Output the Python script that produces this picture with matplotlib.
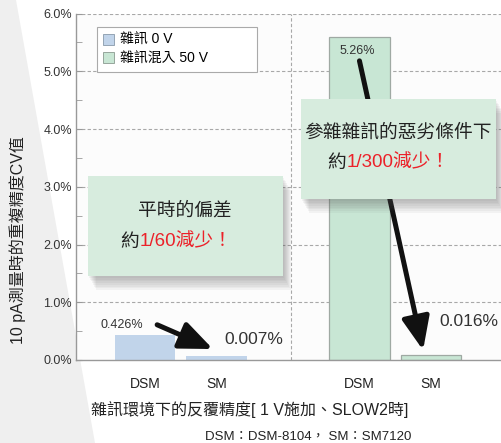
import matplotlib
matplotlib.use('Agg')
import matplotlib.pyplot as plt
import matplotlib.patches as mpatches

plt.rcParams['font.family'] = ['Liberation Sans', 'Noto Sans CJK TC', 'DejaVu Sans']

# data
categories = ['DSM', 'SM', 'DSM', 'SM']
positions = [0, 1, 3, 4]
noise0_heights = [0.426, 0.07]      # drawn heights, %
noise50_heights = [5.6, 0.08]
value_labels = ['0.426%', '0.007%', '5.26%', '0.016%']
yticks = [0, 1, 2, 3, 4, 5, 6]
series_names = ['雜訊 0 V', '雜訊混入 50 V']

W, H = 501, 443
blue = '#c1d4ea'
green = '#c8e6d4'
box_fill = '#d7ecde'
red = '#ec2129'
dark = '#222222'


def fx(px):
    return px / W


def fy(py):
    return 1 - py / H


fig = plt.figure(figsize=(W / 100, H / 100), dpi=100, facecolor='white')

# grey wedge on the left of the background
wedge = mpatches.Polygon([(0, 1), (fx(16), 1), (fx(95), 0), (0, 0)], closed=True,
                         transform=fig.transFigure, facecolor='#efefef', edgecolor='none')
wedge.set_zorder(-5)
fig.patches.append(wedge)

ax = fig.add_axes([fx(76), fy(360), fx(501) - fx(76), fy(13.5) - fy(360)])
ax.set_facecolor('#fcfcfc')
ax.set_zorder(1)

ax.bar(positions[:2], noise0_heights, width=0.85, color=blue, edgecolor='none', zorder=2)
ax.bar(positions[2:], noise50_heights, width=0.85, color=green, edgecolor='#9fa9a3',
       linewidth=0.9, zorder=2)

ax.set_xlim(-0.965, 4.98)
ax.set_ylim(0, 6)
ax.set_yticks(yticks)
ax.set_yticklabels([f'{v:.1f}%' for v in yticks], fontsize=9, color='#333333')
ax.set_yticks([0.5, 1.5, 2.5, 3.5, 4.5, 5.5], minor=True)
ax.tick_params(axis='y', which='both', direction='in', length=4, color='#999999', pad=3)
ax.set_xticks(positions)
ax.set_xticklabels(categories, fontsize=10, color='#222222')
ax.tick_params(axis='x', length=0, pad=12)

for v in yticks[1:]:
    ax.axhline(v, color='#a8a8a8', lw=0.8, ls=(0, (3, 2)), zorder=1)
ax.axvline(2.04, color='#a8a8a8', lw=0.8, ls=(0, (3, 2)), zorder=1)

for s in ['top', 'right']:
    ax.spines[s].set_visible(False)
for s in ['left', 'bottom']:
    ax.spines[s].set_color('#999999')
    ax.spines[s].set_linewidth(1.0)

# value labels
ax.text(-0.32, 0.61, value_labels[0], fontsize=9, color='#333333', ha='center', va='center', zorder=4)
ax.text(1.52, 0.35, value_labels[1], fontsize=12.5, color='#333333', ha='center', va='center', zorder=4)
ax.text(2.97, 5.35, value_labels[2], fontsize=9, color='#333333', ha='center', va='center', zorder=4)
ax.text(4.53, 0.66, value_labels[3], fontsize=12.5, color='#333333', ha='center', va='center', zorder=4)

# arrows
arrow_style = dict(arrowstyle='-|>,head_length=1.0,head_width=0.42', lw=3.6,
                   color='#111111', mutation_scale=20, shrinkA=0, shrinkB=0)
ax.annotate('', xy=(0.95, 0.19), xytext=(0.17, 0.61), arrowprops=arrow_style, zorder=5)
ax.annotate('', xy=(3.89, 0.17), xytext=(3.0, 5.18), arrowprops=arrow_style, zorder=3)

legend_handles = [mpatches.Patch(facecolor=blue, edgecolor='#8899aa', lw=0.6, label=series_names[0]),
                  mpatches.Patch(facecolor=green, edgecolor='#8a9a90', lw=0.6, label=series_names[1])]
leg = ax.legend(handles=legend_handles, loc='upper left',
                bbox_to_anchor=(fx(97), fy(74), fx(257) - fx(97), fy(27) - fy(74)),
                mode='expand', bbox_transform=fig.transFigure, borderaxespad=0,
                prop={'size': 10},
                handlelength=0.8, handleheight=0.8, handletextpad=0.4, labelspacing=0.3,
                borderpad=0.45, fancybox=False, framealpha=1, edgecolor='#aaaaaa')
leg.get_frame().set_linewidth(0.8)
leg.set_zorder(6)


def callout(x0, y0, x1, y1):
    # soft shadow then the box
    for i in range(8):
        d = 2 + i * 1.7
        fig.patches.append(mpatches.Rectangle((fx(x0 + d * 0.6), fy(y1 + d)),
                                              fx(x1 - x0), fy(y0) - fy(y1),
                                              transform=fig.transFigure, facecolor='#555555',
                                              alpha=0.055, edgecolor='none', zorder=7))
    fig.patches.append(mpatches.Rectangle((fx(x0), fy(y1)), fx(x1 - x0), fy(y0) - fy(y1),
                                          transform=fig.transFigure, facecolor=box_fill,
                                          edgecolor='none', zorder=8))


callout(88, 176, 283, 276)
callout(301, 99, 496, 199)

box_font = dict(fontsize=13.5, va='center', zorder=9)
fig.text(fx(185), fy(211), '平時的偏差', color=dark, ha='center', **box_font)
fig.text(fx(139), fy(242), '約', color=dark, ha='right', **box_font)
fig.text(fx(140), fy(242), '1/60減少！', color=red, ha='left', **box_font)

fig.text(fx(398), fy(133), '參雜雜訊的惡劣條件下', color=dark, ha='center', **box_font)
fig.text(fx(346), fy(163), '約', color=dark, ha='right', **box_font)
fig.text(fx(347), fy(163), '1/300減少！', color=red, ha='left', **box_font)

fig.text(fx(18), fy(240), '10 pA測量時的重複精度CV值', fontsize=11.5, color=dark, rotation=90,
         ha='center', va='center', zorder=3)
fig.text(fx(250), fy(410), '雜訊環境下的反覆精度[ 1 V施加、SLOW2時]', fontsize=11.5, color=dark,
         ha='center', va='center', zorder=3)
fig.text(fx(308), fy(437), 'DSM：DSM-8104， SM：SM7120', fontsize=9.5, color=dark,
         ha='center', va='center', zorder=3)

fig.savefig('out.png', dpi=100, facecolor=fig.get_facecolor())
